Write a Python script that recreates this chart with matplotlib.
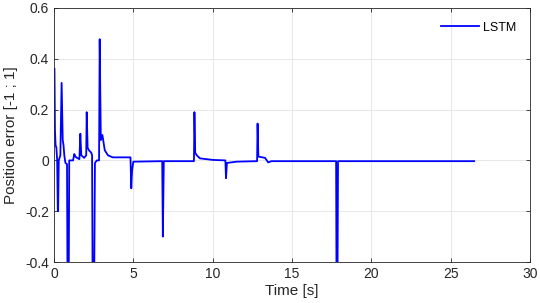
import matplotlib
matplotlib.use("Agg")
import matplotlib.pyplot as plt

plt.rcParams['font.family'] = ['Liberation Sans', 'DejaVu Sans']

# Time samples [s] and position error (key points)
time_s = [0.03, 0.06, 0.1, 0.15, 0.2, 0.24, 0.26, 0.3, 0.4, 0.48, 0.55, 0.6, 0.65, 0.72,
          0.82, 0.86, 0.92, 0.96, 1.1, 1.2, 1.28, 1.35, 1.45, 1.6, 1.66, 1.72, 1.9,
          2.03, 2.06, 2.12, 2.2, 2.35, 2.4, 2.44, 2.52, 2.58, 2.7, 2.84, 2.88, 2.95,
          3.05, 3.2, 3.4, 3.7, 4.82, 4.87, 4.92, 5.0, 6.82, 6.86, 6.92, 8.82, 8.85,
          8.9, 9.0, 9.2, 10.0, 10.8, 10.84, 10.9, 11.5, 12.8, 12.83, 12.88, 13.3,
          13.5, 13.7, 17.78, 17.81, 17.86, 17.9, 26.48]
pos_error = [0.36, 0.12, 0.06, 0.05, 0.0, -0.20, -0.20, 0.0, 0.02, 0.305, 0.08, 0.06, 0.02, -0.01,
             -0.015, -0.6, -0.6, 0.0, 0.0, 0.0, 0.025, 0.015, 0.01, 0.005, 0.105, 0.02, 0.01,
             0.02, 0.19, 0.05, 0.04, 0.03, 0.02, -0.6, -0.6, -0.01, 0.0, 0.0, 0.477, 0.08,
             0.10, 0.04, 0.02, 0.012, 0.012, -0.11, -0.04, -0.005, -0.003, -0.30, -0.003, -0.003, 0.19,
             0.03, 0.02, 0.008, 0.002, 0.0, -0.07, -0.01, -0.005, -0.003, 0.145, 0.015, 0.01,
             -0.008, -0.003, -0.003, -0.6, -0.6, -0.003, -0.003]

x_ticks = [0, 5, 10, 15, 20, 25, 30]
y_ticks = [-0.4, -0.2, 0, 0.2, 0.4, 0.6]
y_tick_labels = ['-0.4', '-0.2', '0', '0.2', '0.4', '0.6']

fig = plt.figure(figsize=(5.4, 3.03), dpi=100)
ax = fig.add_axes([0.1, 0.1353, 0.8815, 0.8383])
ax.plot(time_s, pos_error, color='#0000ff', lw=1.3, label='LSTM')
ax.set_xlim(0, 30)
ax.set_ylim(-0.4, 0.6)
ax.set_xticks(x_ticks)
ax.set_yticks(y_ticks)
ax.set_yticklabels(y_tick_labels)
ax.grid(True, color='#e3e3e3', lw=0.6)
ax.set_axisbelow(True)
ax.tick_params(direction='in', top=True, right=True, length=3, width=0.6,
               colors='#262626', labelsize=10)
for s in ax.spines.values():
    s.set_color('#262626')
    s.set_linewidth(0.6)
ax.set_xlabel('Time [s]', fontsize=11, color='#262626', labelpad=2)
ax.set_ylabel('Position error [-1 ; 1]', fontsize=11, color='#262626', labelpad=5)
ax.legend(loc='upper right', frameon=False, fontsize=9, handlelength=3.0,
          handletextpad=0.35, borderaxespad=0.7)
fig.savefig('out.png', dpi=100)
